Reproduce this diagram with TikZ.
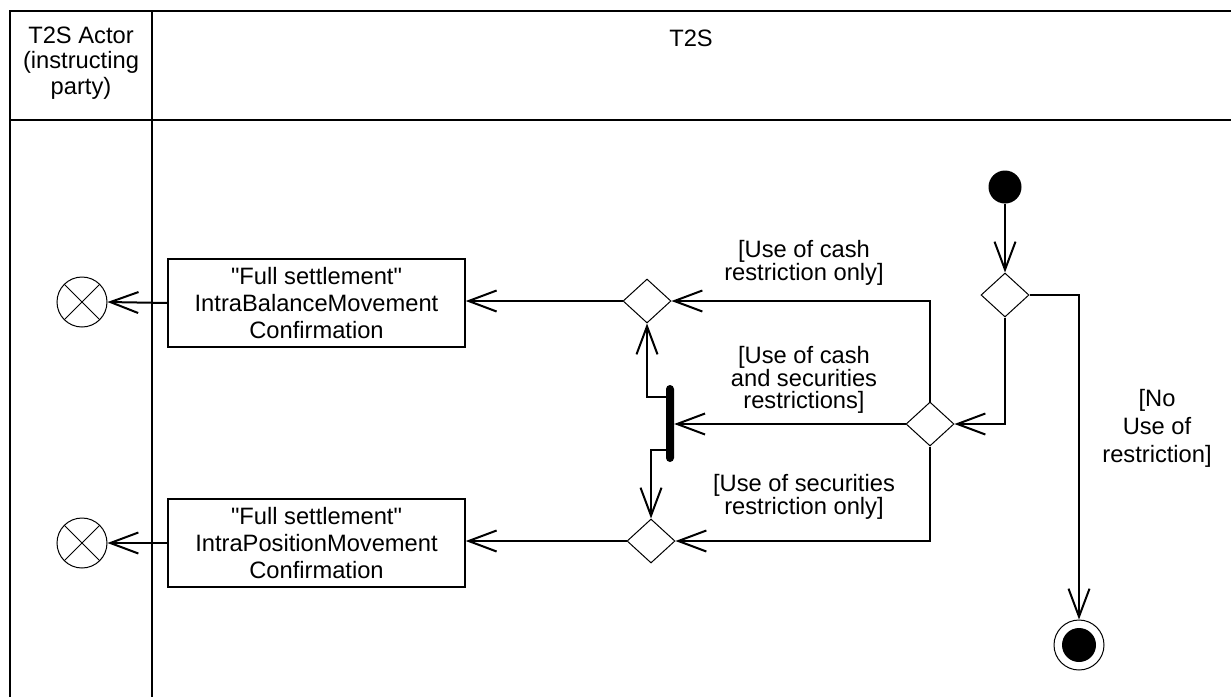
\documentclass[tikz,border=0pt]{standalone}
\usepackage{fontspec}
\setmainfont{Liberation Sans}[Ligatures=TeXOff]
\usetikzlibrary{arrows.meta,shapes.geometric}
\begin{document}
\begin{tikzpicture}[x=1pt,y=-1pt,
  lane/.style={line width=2pt},
  txt/.style={align=center, inner sep=0pt, font=\fontsize{23.7}{27}\selectfont},
  guard/.style={align=center, inner sep=0pt, font=\fontsize{23.7}{21.5}\selectfont},
  conn/.style={line width=2pt, -{Straight Barb[length=28pt,width=21pt]}},
  actbox/.style={draw, line width=1.5pt, minimum width=297pt, minimum height=88pt, inner sep=0pt, align=center, font=\fontsize{23.7}{27}\selectfont},
  decision/.style={draw, diamond, line width=1pt, minimum width=48pt, minimum height=44pt, inner sep=0pt},
  flowend/.style={draw, circle, line width=1pt, minimum size=50pt, inner sep=0pt,
    path picture={\draw[line width=1pt] (path picture bounding box.south west) -- (path picture bounding box.north east)
      (path picture bounding box.north west) -- (path picture bounding box.south east);}},
  startnode/.style={circle, fill=black, minimum size=33pt, inner sep=0pt},
  endouter/.style={draw, circle, line width=1pt, minimum size=50pt, inner sep=0pt},
  endinner/.style={circle, fill=black, minimum size=34pt, inner sep=0pt},
  forkbar/.style={fill=black, rounded corners=4pt, minimum width=8pt, minimum height=77pt, inner sep=0pt}
]
\useasboundingbox (0,0) rectangle (1231,697);
% swimlane frame
\draw[lane] (10,697) -- (10,11) -- (1231,11);
\draw[lane] (10,120) -- (1231,120);
\draw[lane] (152,11) -- (152,697);
\node[txt, font=\fontsize{23.7}{25.5}\selectfont] (hactor) at (81,63) {T2S Actor\\(instructing\\party)};
\node[txt] (ht2s) at (691,38) {T2S};

% nodes
\node[startnode] (start) at (1005,187) {};
\node[decision] (dtop) at (1005,295) {};
\node[decision] (dmid) at (930,424) {};
\node[decision] (d1) at (647,301) {};
\node[decision] (d2) at (651,541) {};
\node[forkbar] (bar) at (670,423.5) {};
\node[endouter] (final) at (1079,645) {};
\node[endinner] (finalin) at (final.center) {};
\node[actbox] (box1) at (316.5,303) {"Full settlement"\\IntraBalanceMovement\\Confirmation};
\node[actbox] (box2) at (316.5,543) {"Full settlement"\\IntraPositionMovement\\Confirmation};
\node[flowend] (ff1) at (82,302) {};
\node[flowend] (ff2) at (82,543) {};
\coordinate (b1) at (670,397);
\coordinate (b2) at (670,450);

% labels
\node[guard] (lcash) at (804,263) {[Use of cash\\restriction only]};
\node[guard] (lboth) at (804,380) {[Use of cash\\and securities\\restrictions]};
\node[guard] (lsec) at (804,497) {[Use of securities\\restriction only]};
\node[guard, font=\fontsize{23.7}{28}\selectfont] (lno) at (1157,428) {[No\\Use of\\restriction]};

% connectors
\draw[conn] (start) -- (dtop.north);
\draw[conn] (dtop.south) |- (dmid.east);
\draw[conn] (dtop.east) -| (final.north);
\draw[conn] (dmid.north) |- (d1.east);
\draw[conn] (dmid.west) -- (dmid.west -| bar.east);
\draw[conn] (dmid.south) |- (d2.east);
\draw[conn] (b1) -| (d1.south);
\draw[conn] (b2) -| (d2.north);
\draw[conn] (d1.west) -- (d1.west -| box1.east);
\draw[conn] (d2.west) -- (d2.west -| box2.east);
\draw[conn] (box1.west) -- (ff1.east);
\draw[conn] (box2.west) -- (ff2.east);
\end{tikzpicture}
\end{document}
